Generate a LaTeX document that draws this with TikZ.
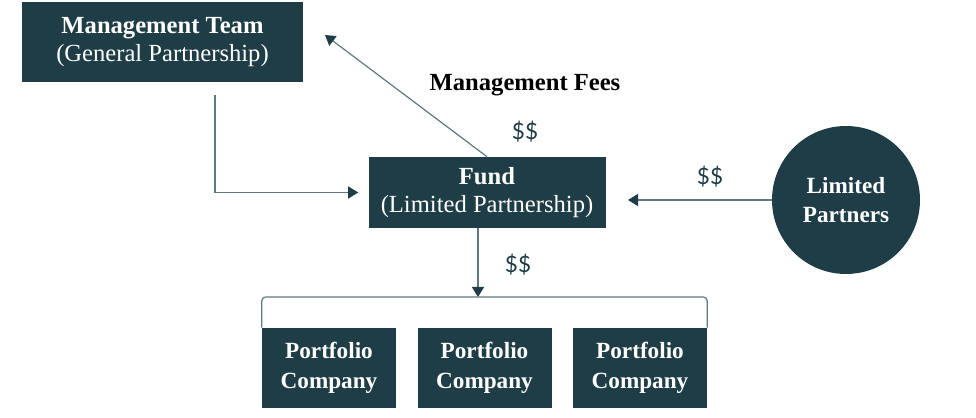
\documentclass[tikz,border=0pt]{standalone}
\usepackage{fontspec}
\setmainfont{Liberation Serif}
\setsansfont{Lato}
\usetikzlibrary{arrows.meta,calc}
\definecolor{darkteal}{HTML}{1E3D46}
\definecolor{linegray}{HTML}{5E7A80}
\tikzset{
  darkbox/.style={fill=darkteal, text=white, align=center, inner sep=0pt},
  bigtext/.style={font=\fontsize{17.5}{20}\selectfont},
  money/.style={font=\sffamily\fontsize{16}{18}\selectfont, text=darkteal},
  flow/.style={draw=linegray, line width=0.3mm, -{Triangle[length=2.5mm,width=3mm,color=darkteal]}},
}
\begin{document}
\begin{tikzpicture}[x=0.25mm,y=-0.25mm]
    \useasboundingbox (0,0) rectangle (976,418);
    % boxes
    \node[darkbox, bigtext, minimum width=70.25mm, minimum height=20mm] (mgmt) at (162.5,42) {\textbf{Management Team}\\(General Partnership)};
    \node[darkbox, bigtext, minimum width=59.25mm, minimum height=17.75mm] (fund) at (487,192.5) {\textbf{Fund}\\(Limited Partnership)};
    \node[darkbox, circle, minimum size=37mm, font=\bfseries\fontsize{16.5}{21}\selectfont] (lp) at (846,200) {Limited\\Partners};
    \foreach \i/\x in {1/329, 2/484.5, 3/640}
      \node[darkbox, minimum width=33.5mm, minimum height=20mm, font=\bfseries\fontsize{16.5}{21}\selectfont] (pc\i) at (\x,368) {Portfolio\\Company};
    % labels
    \node[font=\bfseries\fontsize{17.5}{20}\selectfont] (feelabel) at (525,85) {Management Fees};
    \node[money] (feedollar) at (525,132) {\$\$};
    \node[money] (lpdollar) at (710,177) {\$\$};
    \node[money] (pcdollar) at (518,265) {\$\$};
    % connectors
    \coordinate (feeend) at (325,35);
    \coordinate (lpin) at (628,200);
    \coordinate (split) at (478,297);
    \draw[flow] (fund.north) -- (feeend);
    \draw[flow] ($(mgmt.south)+(52.5,13)$) |- ($(fund.west)+(-10,0)$);
    \draw[flow] (lp.west) -- (lpin);
    \draw[flow] (fund.south -| split) -- (split);
    \draw[linegray, line width=0.3mm, rounded corners=1mm] (pc1.north west) |- (split) -| (pc3.north east);
\end{tikzpicture}
\end{document}
